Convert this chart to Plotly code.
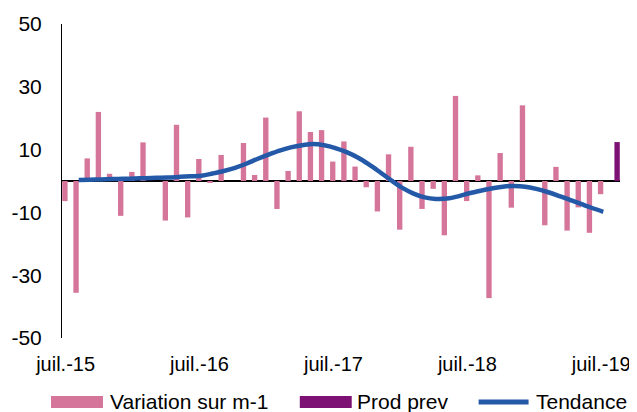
import plotly.graph_objects as go

months = [
    "juil.-15", "août-15", "sept.-15", "oct.-15", "nov.-15", "déc.-15",
    "janv.-16", "févr.-16", "mars-16", "avr.-16", "mai-16", "juin-16",
    "juil.-16", "août-16", "sept.-16", "oct.-16", "nov.-16", "déc.-16",
    "janv.-17", "févr.-17", "mars-17", "avr.-17", "mai-17", "juin-17",
    "juil.-17", "août-17", "sept.-17", "oct.-17", "nov.-17", "déc.-17",
    "janv.-18", "févr.-18", "mars-18", "avr.-18", "mai-18", "juin-18",
    "juil.-18", "août-18", "sept.-18", "oct.-18", "nov.-18", "déc.-18",
    "janv.-19", "févr.-19", "mars-19", "avr.-19", "mai-19", "juin-19",
    "juil.-19", "août-19",
]

variation = [
    -6.4, -35.6, 7.2, 22.0, 2.3, -11.1, 2.9, 12.3, 0.0, -12.6,
    17.9, -11.6, 7.0, -0.4, 8.3, 0.0, 12.1, 1.9, 20.2, -8.9,
    3.2, 22.2, 15.6, 16.2, 6.2, 12.6, 4.6, -2.0, -9.7, 8.5,
    -15.5, 10.9, -8.9, -2.5, -17.3, 27.1, -6.4, 1.8, -37.3, 8.9,
    -8.5, 24.1, 0.0, -14.1, 4.5, -15.8, -8.4, -16.5, -4.2, None,
]

prod_prev = [None] * 49 + [12.4]

tendance = [
    None, 0.3, 0.4, 0.5, 0.6, 0.7, 0.8, 0.9, 1.0, 1.1,
    1.3, 1.5, 1.7, 2.4, 3.2, 4.2, 5.5, 7.0, 8.4, 9.7,
    10.7, 11.4, 11.8, 11.4, 10.5, 9.2, 7.5, 5.3, 2.8, 0.2,
    -2.2, -4.0, -5.2, -5.7, -5.6, -4.9, -3.9, -3.1, -2.4, -1.8,
    -1.6, -1.8, -2.5, -3.5, -4.7, -6.0, -7.3, -8.6, -9.8, None,
]

x_ticks = ["juil.-15", "juil.-16", "juil.-17", "juil.-18", "juil.-19"]
y_ticks = [-50, -30, -10, 10, 30, 50]
y_ticktext = ["-50", "-30", "-10", "10", "30", "50"]

legend_names = ["Variation sur m-1", "Prod prev", "Tendance"]

FONT = "Arial, Liberation Sans, sans-serif"
PINK = "#D5759A"
PURPLE = "#7E1274"
BLUE = "#2459A8"

# the page body has an 8px margin: the figure is sized to fit the window
OFF = 8
W, H = 637 - OFF, 412 - OFF
ML, MR, MT, MB = 62 - OFF, 16.5, 24 - OFF, 74
PW = W - ML - MR
PH = H - MT - MB


def px(x):
    return (x - OFF - ML) / PW


def py(y):
    return (H - MB - (y - OFF)) / PH


fig = go.Figure()
fig.add_trace(go.Bar(x=months, y=variation, name=legend_names[0],
                     marker=dict(color=PINK, line=dict(width=0))))
fig.add_trace(go.Bar(x=months, y=prod_prev, name=legend_names[1],
                     marker=dict(color=PURPLE, line=dict(width=0))))
fig.add_trace(go.Scatter(x=months, y=tendance, name=legend_names[2], mode="lines",
                         line=dict(color=BLUE, width=4.5, shape="spline"),
                         connectgaps=False))

# legend drawn manually to reproduce the wide swatches
shapes = [
    dict(type="rect", xref="paper", yref="paper", x0=px(51), x1=px(103),
         y0=py(408), y1=py(396), fillcolor=PINK, line=dict(width=0), layer="above"),
    dict(type="rect", xref="paper", yref="paper", x0=px(300), x1=px(352),
         y0=py(408), y1=py(396), fillcolor=PURPLE, line=dict(width=0), layer="above"),
    dict(type="line", xref="paper", yref="paper", x0=px(479), x1=px(529),
         y0=py(402), y1=py(402), line=dict(color=BLUE, width=5), layer="above"),
]
annotations = [
    dict(text=legend_names[0], xref="paper", yref="paper", x=px(108), y=py(401),
         xanchor="left", yanchor="middle", showarrow=False, font=dict(size=21)),
    dict(text=legend_names[1], xref="paper", yref="paper", x=px(355), y=py(401),
         xanchor="left", yanchor="middle", showarrow=False, font=dict(size=21)),
    dict(text=legend_names[2], xref="paper", yref="paper", x=px(534), y=py(401),
         xanchor="left", yanchor="middle", showarrow=False, font=dict(size=21)),
]

fig.update_layout(
    width=W, height=H,
    margin=dict(l=ML, r=MR, t=MT, b=MB),
    paper_bgcolor="white", plot_bgcolor="white",
    barmode="group", bargap=0.04, bargroupgap=0,
    font=dict(family=FONT, size=21, color="#000000"),
    showlegend=False,
    shapes=shapes, annotations=annotations,
)
fig.update_xaxes(type="category", categoryorder="array", categoryarray=months,
                 range=[-0.5, 49.5], tickmode="array", tickvals=x_ticks, ticktext=x_ticks,
                 showgrid=False, showline=False, ticks="", tickangle=0,
                 tickfont=dict(size=20), ticklabelshift=-2,
                 ticklabelstandoff=12, automargin=False, ticklabeloverflow="allow")
fig.update_yaxes(range=[-50, 50], tickmode="array", tickvals=y_ticks, ticktext=y_ticktext,
                 showgrid=False, showline=True, linecolor="#000000", linewidth=1,
                 zeroline=True, zerolinecolor="#000000", zerolinewidth=1.5,
                 ticks="", ticklabelstandoff=15, automargin=False)

fig.write_html("out.html")
